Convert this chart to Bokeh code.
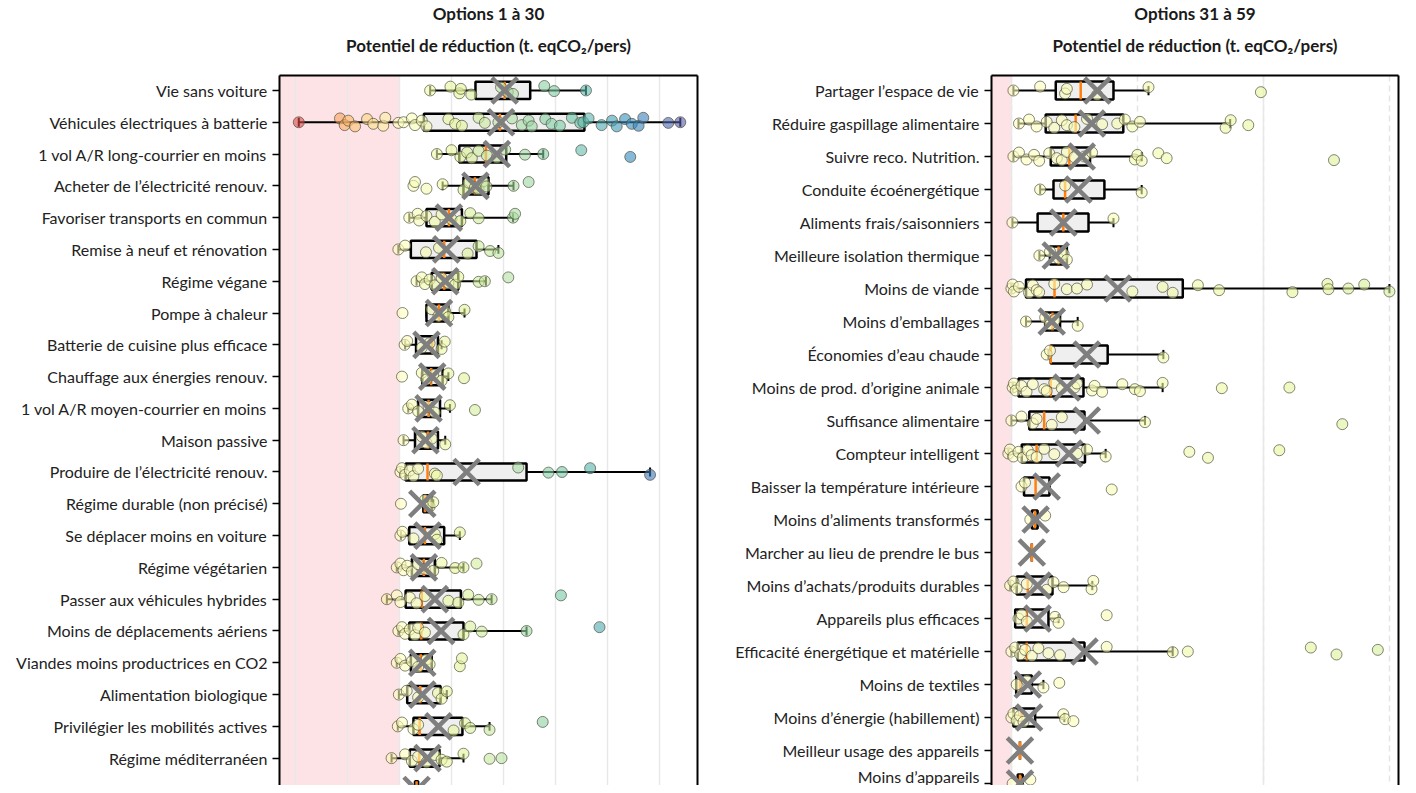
from bokeh.plotting import figure
from bokeh.models import (Range1d, FixedTicker, SingleIntervalTicker, LinearAxis,
                          BoxAnnotation, Title, ColumnDataSource)
from bokeh.layouts import row
from bokeh.embed import file_html
from bokeh.resources import INLINE

FONT = "Lato"

# ---------------- Options 1 à 30 (visible rows) ----------------
left_names = [
    "Vie sans voiture", "Véhicules électriques à batterie", "1 vol A/R long-courrier en moins",
    "Acheter de l’électricité renouv.", "Favoriser transports en commun", "Remise à neuf et rénovation",
    "Régime végane", "Pompe à chaleur", "Batterie de cuisine plus efficace",
    "Chauffage aux énergies renouv.", "1 vol A/R moyen-courrier en moins", "Maison passive",
    "Produire de l’électricité renouv.", "Régime durable (non précisé)", "Se déplacer moins en voiture",
    "Régime végétarien", "Passer aux véhicules hybrides", "Moins de déplacements aériens",
    "Viandes moins productrices en CO2", "Alimentation biologique", "Privilégier les mobilités actives",
    "Régime méditerranéen", "Produire sa propre nourriture",
]
left_q1 = [1.46, 0.47, 1.15, 1.23, 0.52, 0.22, 0.62, 0.52, 0.32, 0.44, 0.36, 0.30, 0.12, 0.46, 0.19,
           0.24, 0.12, 0.19, 0.22, 0.15, 0.27, 0.20, 0.30]
left_med = [2.02, 1.93, 1.66, 1.45, 0.95, 0.86, 0.86, 0.76, 0.63, 0.61, 0.56, 0.55, 0.54, 0.49, 0.49,
            0.47, 0.43, 0.42, 0.41, 0.40, 0.39, 0.38, 0.33]
left_q3 = [2.51, 3.55, 2.05, 1.71, 1.20, 1.48, 1.13, 0.94, 0.74, 0.83, 0.78, 0.74, 2.44, 0.62, 0.86,
           0.68, 1.18, 1.23, 0.62, 0.79, 1.21, 0.77, 0.36]
left_mean = [2.02, 1.95, 1.87, 1.46, 0.95, 0.90, 0.88, 0.76, 0.52, 0.63, 0.56, 0.50, 1.29, 0.44, 0.54,
             0.47, 0.68, 0.80, 0.44, 0.44, 0.75, 0.54, 0.33]
left_wlo = [0.59, -1.93, 0.72, 0.83, 0.19, -0.02, 0.33, 0.52, 0.11, 0.43, 0.17, 0.08, 0.02, 0.46, 0.03,
            -0.05, -0.24, -0.02, -0.05, -0.01, -0.03, -0.15, 0.30]
left_whi = [3.58, 5.39, 2.76, 2.19, 2.18, 1.90, 1.66, 1.25, 0.81, 0.94, 0.97, 0.88, 4.81, 0.65, 1.16,
            1.23, 1.77, 2.44, 0.62, 0.91, 1.73, 1.23, 0.36]
left_points = [
    [0.59, 0.98, 1.15, 1.18, 1.38, 1.95, 2.08, 2.18, 2.78, 2.97, 3.58],
    [-1.93, -1.14, -1.05, -0.98, -0.85, -0.62, -0.50, -0.31, -0.27, -0.02, 0.08, 0.24, 0.30, 0.43, 0.52,
     0.94, 1.07, 1.20, 1.52, 1.64, 1.90, 2.16, 2.35, 2.48, 2.54, 2.80, 2.92, 3.08, 3.31, 3.47, 3.53,
     3.63, 3.88, 4.08, 4.17, 4.33, 4.46, 4.59, 4.68, 5.16, 5.39],
    [0.72, 1.00, 1.17, 1.30, 1.39, 1.52, 1.68, 1.87, 2.03, 2.41, 2.76, 3.49, 4.43],
    [0.27, 0.30, 0.52, 0.83, 1.23, 1.33, 1.45, 1.52, 1.61, 1.67, 2.19, 2.48],
    [0.19, 0.35, 0.38, 0.52, 0.68, 0.81, 1.00, 1.17, 1.36, 1.52, 2.18, 2.22],
    [-0.02, 0.11, 0.51, 0.76, 1.31, 1.52, 1.74, 1.90],
    [0.33, 0.43, 0.49, 0.58, 0.68, 0.81, 0.94, 1.07, 1.13, 1.52, 1.64, 2.09],
    [0.06, 0.62, 0.75, 0.88, 0.94, 1.25],
    [0.10, 0.15, 0.43, 0.58, 0.81, 0.87],
    [0.05, 0.43, 0.52, 0.65, 0.81, 0.94, 1.24],
    [0.17, 0.24, 0.36, 0.56, 0.68, 0.97, 1.45],
    [0.08, 0.43, 0.52, 0.62, 0.88],
    [0.02, 0.05, 0.11, 0.20, 0.27, 0.36, 0.68, 0.72, 2.28, 2.86, 3.12, 3.66, 4.81],
    [0.03, 0.49, 0.58, 0.65],
    [0.02, 0.06, 0.27, 0.68, 0.72, 1.16],
    [-0.05, 0.02, 0.08, 0.15, 0.24, 0.36, 0.49, 0.65, 0.81, 1.07, 1.23, 1.48],
    [-0.24, -0.05, 0.02, 0.20, 0.33, 0.49, 0.94, 1.13, 1.32, 1.52, 1.77, 3.10],
    [-0.02, 0.05, 0.11, 0.20, 0.30, 0.36, 0.49, 1.23, 1.36, 1.58, 2.44, 3.84],
    [-0.05, 0.02, 0.11, 0.24, 0.36, 0.52, 0.58, 1.16, 1.20],
    [-0.01, 0.14, 0.36, 0.74, 0.81, 0.91],
    [-0.03, 0.05, 0.27, 0.36, 1.04, 1.26, 1.36, 1.73, 2.75],
    [-0.15, 0.11, 0.24, 0.36, 0.52, 0.68, 0.81, 0.91, 1.23, 1.73, 1.96],
    [],
]

# ---------------- Options 31 à 59 (visible rows) ----------------
right_names = [
    "Partager l’espace de vie", "Réduire gaspillage alimentaire", "Suivre reco. Nutrition.",
    "Conduite écoénergétique", "Aliments frais/saisonniers", "Meilleure isolation thermique",
    "Moins de viande", "Moins d’emballages", "Économies d’eau chaude",
    "Moins de prod. d’origine animale", "Suffisance alimentaire", "Compteur intelligent",
    "Baisser la température intérieure", "Moins d’aliments transformés",
    "Marcher au lieu de prendre le bus", "Moins d’achats/produits durables",
    "Appareils plus efficaces", "Efficacité énergétique et matérielle", "Moins de textiles",
    "Moins d’énergie (habillement)", "Meilleur usage des appareils", "Moins d’appareils",
]
right_q1 = [0.176, 0.136, 0.156, 0.167, 0.104, 0.153, 0.058, 0.134, 0.156, 0.028, 0.071, 0.041, 0.050,
            0.081, 0.081, 0.021, 0.015, 0.025, 0.019, 0.008, 0.034, 0.025]
right_med = [0.275, 0.255, 0.230, 0.213, 0.206, 0.187, 0.171, 0.163, 0.156, 0.156, 0.130, 0.100, 0.096,
             0.093, 0.081, 0.065, 0.061, 0.061, 0.034, 0.040, 0.034, 0.034]
right_q3 = [0.405, 0.444, 0.312, 0.369, 0.306, 0.220, 0.680, 0.193, 0.382, 0.286, 0.290, 0.292, 0.151,
            0.104, 0.081, 0.163, 0.147, 0.290, 0.081, 0.094, 0.034, 0.045]
right_mean = [0.341, 0.319, 0.279, 0.266, 0.206, 0.176, 0.422, 0.160, 0.299, 0.220, 0.299, 0.229, 0.140,
              0.096, 0.081, 0.104, 0.104, 0.290, 0.065, 0.070, 0.034, 0.034]
right_wlo = [0.008, 0.028, 0.008, 0.114, 0.004, 0.111, 0.000, 0.058, 0.147, 0.005, 0.000, -0.012, 0.050,
             0.081, 0.081, -0.005, 0.015, 0.000, 0.019, 0.008, 0.034, 0.025]
right_whi = [0.544, 0.868, 0.517, 0.517, 0.405, 0.220, 1.500, 0.263, 0.603, 0.600, 0.530, 0.374, 0.151,
             0.104, 0.081, 0.321, 0.187, 0.640, 0.127, 0.210, 0.034, 0.045]
right_points = [
    [0.008, 0.114, 0.213, 0.220, 0.340, 0.544, 0.990],
    [0.03, 0.07, 0.10, 0.14, 0.17, 0.20, 0.22, 0.25, 0.30, 0.36, 0.42, 0.45, 0.48, 0.51, 0.85, 0.87, 0.94],
    [0.008, 0.03, 0.06, 0.09, 0.11, 0.15, 0.18, 0.20, 0.22, 0.25, 0.29, 0.32, 0.49, 0.50, 0.517, 0.583,
     0.616, 1.28],
    [0.114, 0.213, 0.517],
    [0.004, 0.405],
    [0.111, 0.153, 0.187, 0.207, 0.220],
    [0.0, 0.005, 0.01, 0.03, 0.07, 0.085, 0.10, 0.11, 0.17, 0.22, 0.26, 0.30, 0.48, 0.60, 0.64, 0.74,
     0.824, 1.115, 1.254, 1.258, 1.337, 1.40, 1.50],
    [0.058, 0.134, 0.153, 0.173, 0.263],
    [0.140, 0.153, 0.603],
    [0.005, 0.01, 0.017, 0.04, 0.06, 0.085, 0.13, 0.14, 0.17, 0.20, 0.25, 0.26, 0.32, 0.33, 0.36, 0.44,
     0.49, 0.51, 0.60, 0.835, 1.103],
    [0.0, 0.04, 0.085, 0.10, 0.16, 0.20, 0.53, 1.313],
    [-0.012, -0.006, 0.008, 0.028, 0.045, 0.065, 0.08, 0.10, 0.13, 0.17, 0.26, 0.30, 0.374, 0.706, 0.78,
     1.063],
    [0.040, 0.054, 0.398],
    [0.075, 0.134],
    [],
    [-0.005, 0.008, 0.021, 0.061, 0.14, 0.167, 0.207, 0.318, 0.325],
    [0.028, 0.041, 0.061, 0.173, 0.187, 0.378],
    [0.0, 0.015, 0.035, 0.054, 0.081, 0.107, 0.147, 0.193, 0.378, 0.64, 0.70, 1.188, 1.29, 1.454],
    [0.021, 0.061, 0.127, 0.19],
    [0.0, 0.008, 0.021, 0.034, 0.048, 0.206, 0.213, 0.246],
    [],
    [0.005, 0.075],
]

SUBTITLE = "Potentiel de réduction (t. eqCO₂/pers)"

# ---------------- styling helpers ----------------
SPECTRAL = ['#9e0142', '#d53e4f', '#f46d43', '#fdae61', '#fee08b', '#ffffbf',
            '#e6f598', '#abdda4', '#66c2a5', '#3288bd', '#5e4fa2']
NEG_LIM, POS_LIM = 2.6, 5.6
JIT = [0.0, -0.12, 0.09, -0.05, 0.13, -0.10, 0.05, 0.11, -0.14, 0.02]


def hex2rgb(h):
    return tuple(int(h[i:i + 2], 16) for i in (1, 3, 5))


def cmap(v):
    f = 0.5 + 0.5 * v / (NEG_LIM if v < 0 else POS_LIM)
    f = min(max(f, 0.0), 1.0)
    pos = f * (len(SPECTRAL) - 1)
    i = min(int(pos), len(SPECTRAL) - 2)
    t = pos - i
    a, b = hex2rgb(SPECTRAL[i]), hex2rgb(SPECTRAL[i + 1])
    return "#%02x%02x%02x" % tuple(int(round(a[k] + (b[k] - a[k]) * t)) for k in range(3))


H = 785
BOX_H = 0.54
CAP_H = 0.28


def panel(names, q1, med, q3, mean, wlo, whi, points, xr, yr, width, mbl, mbr, title1, minor):
    n = len(names)
    p = figure(width=width, height=H, x_range=Range1d(*xr), y_range=Range1d(*yr),
               output_backend="svg", toolbar_location=None, x_axis_location="above",
               min_border_left=mbl, min_border_right=mbr, min_border_top=75, min_border_bottom=0)
    p.outline_line_color = None
    p.background_fill_color = "white"
    p.border_fill_color = "white"

    # heading: outer line (p.title), inner line, and a blank spacer next to the frame
    p.title = Title(text=title1, align="center", text_font=FONT, text_font_size="17px",
                    text_font_style="bold", text_color="#1a1a1a", standoff=0)
    p.add_layout(Title(text=" ", align="center", text_font_size="1px", standoff=8), "above")
    p.add_layout(Title(text=SUBTITLE, align="center", text_font=FONT, text_font_size="17px",
                       text_font_style="bold", text_color="#1a1a1a", standoff=18), "above")

    # top axis = top border only
    xa = p.xaxis[0]
    xa.ticker = FixedTicker(ticks=[])
    xa.major_tick_out = 0
    xa.major_tick_in = 0
    xa.minor_tick_out = 0
    xa.minor_tick_in = 0
    xa.major_label_standoff = 0
    xa.axis_line_width = 2
    xa.axis_line_color = "black"

    # left axis with category labels
    ya = p.yaxis[0]
    ya.ticker = FixedTicker(ticks=list(range(n)))
    ya.major_label_overrides = {i: nm for i, nm in enumerate(names)}
    ya.major_label_text_font = FONT
    ya.major_label_text_font_size = "16px"
    ya.major_label_text_color = "#222222"
    ya.major_tick_out = 7
    ya.major_tick_in = 0
    ya.major_tick_line_width = 1.5
    ya.minor_tick_out = 0
    ya.minor_tick_in = 0
    ya.major_label_standoff = 5
    ya.axis_line_width = 2
    ya.axis_line_color = "black"

    # right border
    ra = LinearAxis(ticker=FixedTicker(ticks=[]), axis_line_width=2, axis_line_color="black",
                    major_tick_out=0, major_tick_in=0, minor_tick_out=0, minor_tick_in=0,
                    major_label_standoff=0)
    p.add_layout(ra, "right")

    p.ygrid.visible = False
    p.xgrid.ticker = SingleIntervalTicker(interval=1, num_minor_ticks=(2 if minor else 0))
    p.xgrid.grid_line_color = "#e8e8e8"
    p.xgrid.grid_line_width = 1.5
    if minor:
        p.xgrid.minor_grid_line_color = "#e4e4e4"
        p.xgrid.minor_grid_line_width = 1.5
        p.xgrid.minor_grid_line_dash = "6 4"

    p.add_layout(BoxAnnotation(right=0, fill_color="#fde3e5", fill_alpha=1.0,
                               line_color=None, level="image"))

    rows = list(range(n))
    stats = ColumnDataSource(dict(
        y=rows, q1=q1, med=med, q3=q3, mean=mean, wlo=wlo, whi=whi,
        ylo=[r - BOX_H / 2 for r in rows], yhi=[r + BOX_H / 2 for r in rows],
        clo=[r - CAP_H / 2 for r in rows], chi=[r + CAP_H / 2 for r in rows],
    ))
    p.segment(x0="wlo", y0="y", x1="whi", y1="y", source=stats, line_color="black", line_width=2)
    p.segment(x0="wlo", y0="clo", x1="wlo", y1="chi", source=stats, line_color="black", line_width=2)
    p.segment(x0="whi", y0="clo", x1="whi", y1="chi", source=stats, line_color="black", line_width=2)
    p.quad(left="q1", right="q3", bottom="ylo", top="yhi", source=stats,
           fill_color="#efefef", line_color="black", line_width=2.5)
    p.segment(x0="med", y0="ylo", x1="med", y1="yhi", source=stats,
              line_color="#ff7f0e", line_width=2.5)

    px, py, pc = [], [], []
    for r, vals in enumerate(points):
        for k, v in enumerate(vals):
            px.append(v)
            py.append(r + JIT[k % len(JIT)])
            pc.append(cmap(v))
    pts = ColumnDataSource(dict(x=px, y=py, c=pc))
    p.scatter(x="x", y="y", source=pts, size=11, fill_color="c", fill_alpha=0.6,
              line_color="#4a4a3a", line_alpha=0.75, line_width=0.9)

    p.scatter(x="mean", y="y", source=stats, marker="x", size=36,
              line_color="#7f7f7f", line_width=4.5)
    return p


# left panel: frame 281..699 ; x=0 at 401 px, 52.1 px/unit
# y: row 0 at 90 px, 31.8 px/row, frame 75..785
p1 = panel(left_names, left_q1, left_med, left_q3, left_mean, left_wlo, left_whi, left_points,
           xr=(-2.30, 5.72), yr=(21.86, -0.47), width=706, mbl=279, mbr=9,
           title1="Options 1 à 30", minor=False)
# right panel: frame 993..1400 ; x=0 at 1013 px, 252 px/unit
# y: row 0 at 90 px, 33 px/row
p2 = panel(right_names, right_q1, right_med, right_q3, right_mean, right_wlo, right_whi, right_points,
           xr=(-0.079, 1.536), yr=(21.06, -0.455), width=694, mbl=285, mbr=2,
           title1="Options 31 à 59", minor=True)

layout = row(p1, p2)
open("out.html", "w").write(file_html(layout, INLINE))
